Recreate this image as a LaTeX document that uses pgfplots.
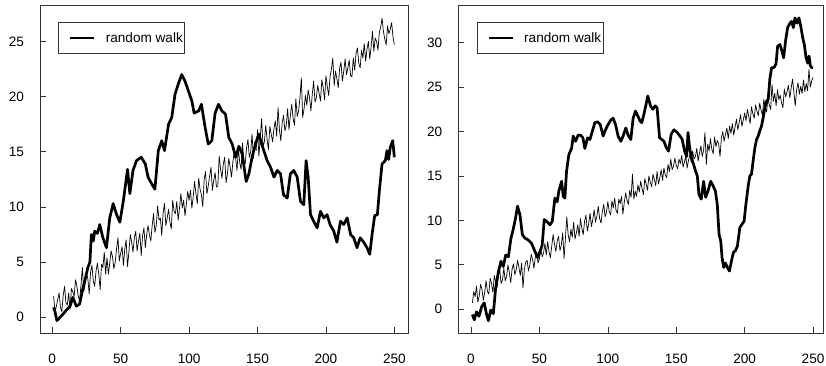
\documentclass[border=0pt]{standalone}
\usepackage{fontspec}
\setmainfont{Liberation Sans}
\usepackage{pgfplots}
\usepackage{pgfplotstable}
\pgfplotsset{compat=1.18}

\pgfplotstableread[row sep=\\]{y\\
1.9\\ 0.5\\ 1.0\\ 1.6\\ 2.2\\ 0.9\\ 0.5\\ 2.0\\ 2.8\\ 1.3\\
1.1\\ 2.2\\ 0.7\\ 2.6\\ 2.3\\ 1.9\\ 3.4\\ 2.8\\ 1.9\\ 1.5\\
2.9\\ 4.5\\ 2.3\\ 3.0\\ 4.0\\ 3.5\\ 2.1\\ 4.1\\ 4.7\\ 3.3\\
2.8\\ 4.2\\ 4.9\\ 3.9\\ 2.5\\ 4.8\\ 4.5\\ 5.9\\ 3.9\\ 5.4\\
3.9\\ 4.9\\ 6.0\\ 5.5\\ 4.4\\ 5.0\\ 6.2\\ 7.2\\ 5.1\\ 5.8\\
6.4\\ 4.7\\ 6.2\\ 7.0\\ 4.6\\ 5.9\\ 7.5\\ 6.8\\ 5.9\\ 7.2\\
7.8\\ 6.0\\ 6.9\\ 7.6\\ 5.6\\ 7.4\\ 8.1\\ 6.3\\ 7.5\\ 8.3\\
7.5\\ 6.9\\ 8.3\\ 9.4\\ 7.7\\ 8.3\\ 10.1\\ 8.8\\ 9.0\\ 7.4\\
9.4\\ 10.3\\ 8.3\\ 9.0\\ 9.8\\ 8.6\\ 8.0\\ 10.6\\ 9.6\\ 9.4\\
10.5\\ 8.8\\ 9.9\\ 11.2\\ 9.9\\ 10.6\\ 9.2\\ 10.3\\ 11.4\\ 10.6\\
11.5\\ 9.9\\ 10.9\\ 12.3\\ 11.2\\ 10.3\\ 12.6\\ 11.6\\ 11.1\\ 10.0\\
12.5\\ 13.2\\ 11.2\\ 11.9\\ 12.8\\ 13.6\\ 11.5\\ 12.4\\ 13.1\\ 11.8\\
11.9\\ 14.6\\ 13.4\\ 12.6\\ 13.9\\ 14.5\\ 12.2\\ 13.0\\ 14.4\\ 13.6\\
12.7\\ 14.1\\ 15.0\\ 14.4\\ 13.3\\ 15.3\\ 14.0\\ 13.4\\ 15.8\\ 14.2\\
13.9\\ 15.4\\ 16.1\\ 14.5\\ 15.0\\ 16.6\\ 14.4\\ 15.9\\ 15.1\\ 17.0\\
14.6\\ 16.3\\ 18.0\\ 15.5\\ 15.9\\ 17.4\\ 16.1\\ 15.2\\ 17.3\\ 16.6\\
15.9\\ 17.1\\ 17.8\\ 16.4\\ 19.0\\ 17.0\\ 16.0\\ 17.6\\ 18.3\\ 16.9\\
17.4\\ 18.9\\ 17.0\\ 18.3\\ 19.3\\ 18.0\\ 17.4\\ 19.8\\ 18.2\\ 18.7\\
19.9\\ 21.7\\ 18.1\\ 18.9\\ 20.1\\ 19.2\\ 20.6\\ 19.9\\ 18.7\\ 20.2\\
21.4\\ 19.5\\ 19.9\\ 21.0\\ 20.3\\ 19.6\\ 21.5\\ 20.8\\ 19.7\\ 21.9\\
20.9\\ 20.1\\ 21.8\\ 22.5\\ 23.5\\ 21.0\\ 22.3\\ 21.6\\ 20.8\\ 22.6\\
23.1\\ 21.4\\ 22.3\\ 23.4\\ 22.0\\ 22.6\\ 23.3\\ 21.9\\ 21.8\\ 23.5\\
22.4\\ 23.9\\ 24.4\\ 23.0\\ 22.6\\ 24.2\\ 23.5\\ 24.8\\ 23.2\\ 24.3\\
25.0\\ 23.4\\ 24.5\\ 25.9\\ 24.1\\ 25.3\\ 25.0\\ 24.2\\ 25.8\\ 26.3\\
27.1\\ 25.9\\ 25.2\\ 24.7\\ 26.4\\ 25.7\\ 26.1\\ 26.7\\ 25.4\\ 24.7\\
}\tlone

\pgfplotstableread[row sep=\\]{y\\
0.7\\ 2.0\\ 1.4\\ 2.6\\ 0.8\\ 1.5\\ 2.8\\ 2.2\\ 1.0\\ 1.9\\
3.2\\ 2.0\\ 1.7\\ 3.5\\ 2.9\\ 1.9\\ 3.8\\ 3.1\\ 2.4\\ 3.9\\
4.4\\ 2.9\\ 3.3\\ 4.6\\ 3.2\\ 3.7\\ 5.0\\ 4.1\\ 3.0\\ 4.5\\
5.1\\ 3.9\\ 4.4\\ 5.5\\ 4.7\\ 3.8\\ 5.2\\ 2.4\\ 4.5\\ 5.3\\
5.5\\ 4.3\\ 5.0\\ 6.2\\ 5.6\\ 4.6\\ 5.9\\ 6.4\\ 5.2\\ 5.7\\
6.8\\ 5.9\\ 6.3\\ 7.4\\ 6.1\\ 7.6\\ 6.5\\ 5.8\\ 7.1\\ 8.4\\
7.3\\ 6.5\\ 7.7\\ 8.2\\ 6.6\\ 7.2\\ 8.6\\ 5.7\\ 8.0\\ 10.4\\
8.4\\ 7.6\\ 9.0\\ 8.1\\ 9.8\\ 7.9\\ 8.6\\ 9.5\\ 8.2\\ 10.2\\
9.1\\ 8.4\\ 9.9\\ 10.6\\ 8.8\\ 9.6\\ 10.8\\ 9.3\\ 10.1\\ 11.2\\
9.8\\ 10.5\\ 11.6\\ 10.2\\ 9.7\\ 11.0\\ 11.8\\ 10.4\\ 10.9\\ 12.1\\
11.0\\ 10.6\\ 12.2\\ 11.4\\ 12.5\\ 11.1\\ 10.8\\ 12.4\\ 11.9\\ 12.7\\
10.7\\ 12.0\\ 13.1\\ 12.3\\ 11.8\\ 13.4\\ 12.6\\ 15.2\\ 12.4\\ 13.3\\
12.7\\ 14.0\\ 13.2\\ 14.4\\ 13.6\\ 12.9\\ 14.7\\ 14.1\\ 13.4\\ 15.0\\
14.3\\ 13.8\\ 15.2\\ 14.6\\ 13.9\\ 15.5\\ 14.1\\ 14.8\\ 15.7\\ 14.5\\
15.9\\ 15.1\\ 14.8\\ 16.3\\ 15.5\\ 16.9\\ 15.7\\ 16.1\\ 17.0\\ 16.2\\
15.8\\ 16.9\\ 16.4\\ 17.3\\ 16.0\\ 16.6\\ 17.2\\ 15.9\\ 16.8\\ 17.4\\
16.5\\ 17.8\\ 16.9\\ 17.2\\ 18.1\\ 16.7\\ 17.6\\ 18.4\\ 17.2\\ 17.9\\
19.9\\ 16.3\\ 18.6\\ 17.8\\ 19.2\\ 18.0\\ 17.5\\ 19.4\\ 18.3\\ 19.0\\
18.6\\ 17.2\\ 19.3\\ 20.0\\ 18.9\\ 19.7\\ 20.4\\ 19.2\\ 20.6\\ 19.8\\
20.9\\ 19.6\\ 20.5\\ 21.4\\ 20.2\\ 21.0\\ 21.9\\ 20.6\\ 21.3\\ 22.1\\
21.2\\ 22.5\\ 21.7\\ 20.9\\ 22.8\\ 22.0\\ 21.5\\ 23.0\\ 22.3\\ 21.8\\
23.2\\ 22.4\\ 21.9\\ 23.6\\ 22.8\\ 22.2\\ 23.7\\ 23.0\\ 22.5\\ 25.3\\
23.4\\ 24.3\\ 22.9\\ 24.7\\ 23.6\\ 24.1\\ 23.2\\ 22.7\\ 24.8\\ 23.9\\
24.5\\ 25.2\\ 23.8\\ 24.9\\ 25.9\\ 24.4\\ 22.9\\ 24.7\\ 25.5\\ 24.2\\
25.1\\ 24.3\\ 25.8\\ 24.5\\ 25.4\\ 24.6\\ 27.0\\ 25.0\\ 25.7\\ 26.1\\
}\tltwo

\pgfplotsset{
  rstyle/.style={
    scale only axis, height=328pt,
    axis line style={black!80, line width=0.6pt},
    tick style={black!80, line width=0.6pt},
    major tick length=6pt, tick align=inside,
    xtick pos=left, ytick pos=left,
    xtick={0,50,...,250},
    ticklabel style={font=\fontsize{13.6}{16}\selectfont},
    /pgf/number format/assume math mode=true,
    xticklabel style={anchor=base, yshift=-31pt},
    yticklabel style={anchor=east, xshift=-12.5pt},
    legend style={anchor=north west, draw=black!80, line width=0.6pt,
      inner xsep=1.5pt, inner ysep=10pt,
      nodes={inner sep=0pt, font=\fontsize{13.6}{16}\selectfont},
      column sep=10pt},
    legend image code/.code={\path (0pt,0pt); \draw[##1] (9pt,0pt) -- (33pt,0pt);},
  },
  thick walk/.style={black, line width=2.7pt, line join=round},
  thin line/.style={black, line width=0.7pt, line join=round},
}

\begin{document}
\begin{tikzpicture}
\useasboundingbox (0,0) rectangle (826pt,366pt);

\begin{axis}[rstyle, at={(40pt,33pt)}, anchor=south west, width=368pt,
  xmin=-8.96, xmax=259.96, ymin=-1.43, ymax=28.3,
  ytick={0,5,...,25},
  legend style={at={(axis description cs:0.0497,0.948)}}]
\addplot[thick walk] coordinates {
(1,0.9) (2,0.5) (3.4,-0.3) (5,-0.1) (8,0.3) (10,0.6) (13,1.0) (15,1.8) (17.6,1.0) (20,1.2)
(22.5,2.7) (24,3.4) (26,4.5) (27.5,5.0) (28.6,7.5) (30,6.9) (31,7.8) (33,7.6) (34.7,8.4) (37,7.2)
(39.6,6.3) (42,9.0) (44.5,10.3) (47,9.3) (49.4,8.6) (52,10.6) (55,13.4) (56.7,11.2) (59,13.3) (61.6,14.2)
(65,14.5) (68,13.9) (70,12.7) (72.6,12.1) (75,11.6) (77.5,15.1) (80,16.0) (82,15.1) (85,17.5) (87.3,18.1)
(89.7,20.2) (92,21.1) (94.6,22.0) (97,21.4) (99.5,20.5) (102,19.6) (103.7,18.5) (107,18.7) (109,19.3) (111.7,17.2)
(114,15.7) (116.6,16.0) (119,18.5) (121.5,19.3) (124,18.7) (126.6,18.4) (129,16.3) (131.5,15.7) (134,14.5) (136.4,15.5)
(138.8,14.8) (141.7,12.3) (143.7,13.0) (146,14.5) (148.5,15.7) (151,16.6) (153,15.7) (154.6,15.1) (157,14.2) (159.5,13.6)
(162,12.7) (164.4,13.3) (166.8,13.0) (169,11.1) (171.7,10.8) (174,13.0) (176.5,13.3) (179,12.7) (181.4,10.5) (183.8,10.2)
(185.5,14.2) (187,12.7) (188.7,9.3) (191,8.7) (193.6,8.1) (196,9.6) (198.4,9.0) (200.8,9.3) (203,8.4) (205.7,7.8)
(208,6.8) (210.6,8.7) (213,8.4) (215.5,9.0) (218,7.5) (220.3,7.2) (222.7,6.3) (225,7.2) (227.6,6.8) (230,6.3)
(232,5.7) (233.7,7.5) (235.6,9.2) (237.6,9.3) (239,11.4) (241,13.9) (243.4,14.2) (244.6,15.1) (245.8,14.3) (247,15.4)
(248.8,16.0) (250,14.5)
};
\addlegendentry{random walk}
\addplot[thin line] table[x expr=\coordindex+1, y=y] {\tlone};
\end{axis}

\begin{axis}[rstyle, at={(458.3pt,33pt)}, anchor=south west, width=365pt,
  xmin=-9.3, xmax=257.5, ymin=-2.68, ymax=34.25,
  ytick={0,5,...,30},
  legend style={at={(axis description cs:0.0504,0.948)}}]
\addplot[thick walk] coordinates {
(1,-0.6) (2.4,-1.2) (4,-0.3) (5.8,-0.8) (7.8,0.3) (9.7,0.7) (11.4,-0.6) (12.7,-1.3) (14.4,-0.1) (16.3,-0.5)
(18,2.4) (20,4.2) (21.9,5.4) (23.6,4.8) (25.3,6.1) (27.3,5.9) (29.2,8.0) (31,9.1) (32.6,10.3) (34,11.6)
(35.8,10.6) (37.5,8.4) (39.4,8.0) (41.8,7.8) (44.3,7.4) (46.7,6.5) (48.7,5.8) (50.4,6.5) (52,7.2) (53.5,10.1)
(55.2,9.9) (57.7,9.5) (59.4,9.9) (61.3,12.5) (63,12.1) (64.2,13.3) (66.2,14.4) (67.4,12.7) (68.6,12.5) (69.8,15.5)
(71.5,17.4) (73.5,18.1) (74.7,19.5) (76.4,18.9) (78.3,19.6) (80,19.6) (81.8,19.3) (83.2,18.1) (85.2,19.3) (86.9,19.1)
(88.6,20.0) (90.5,21.0) (92.5,21.1) (94.4,20.8) (96.6,19.5) (98.3,20.2) (100.2,20.8) (102.2,21.3) (103.9,21.5) (105.6,20.8)
(107.5,19.5) (109.5,18.9) (111.2,19.5) (113.1,20.4) (114.8,19.6) (116.8,19.1) (118.5,21.5) (120.2,22.3) (122.1,21.7) (123.5,21.2)
(124.8,21.0) (126.3,21.9) (128,23.1) (129.2,24.0) (131.2,22.9) (132.9,22.5) (134.6,22.9) (136,22.7) (137.8,19.3) (139.5,19.1)
(141,18.9) (142.7,18.2) (144.4,17.8) (146.3,19.7) (148.3,20.2) (150.7,19.9) (152.7,19.5) (154.4,19.1) (156.1,17.8) (157.6,17.2)
(158.6,19.9) (159.8,18.2) (161,17.1) (162.7,16.3) (164,15.6) (165.4,15.0) (166.6,12.9) (168.3,12.4) (170,14.4) (171.5,12.6)
(173.2,13.3) (175.2,14.4) (176.9,13.9) (178.6,13.3) (180,11.8) (181.3,8.4) (182.5,7.7) (183.5,5.8) (184.7,4.7) (185.9,5.2)
(187.4,4.7) (188.9,4.3) (190.3,5.4) (191.8,6.4) (193.3,6.6) (194.7,7.1) (196.5,9.2) (198.2,9.6) (199.6,9.9) (200.9,11.8)
(202.6,13.9) (203.8,15.0) (205,15.2) (206.2,16.7) (207.5,18.2) (208.7,19.1) (209.9,19.5) (211.1,20.1) (212.3,20.6) (213.6,21.6)
(214.8,22.7) (216,23.4) (217.2,23.6) (218.4,25.9) (219.7,27.2) (221.4,27.2) (222.9,27.6) (224.1,29.6) (225.8,29.8) (227,29.2)
(228.5,28.3) (229.9,30.2) (231.4,31.7) (233.1,32.2) (234.4,32.4) (235.6,31.7) (236.8,32.8) (238.3,32.2) (239.7,32.8) (241.2,31.7)
(242.4,30.6) (243.6,29.8) (244.9,28.3) (246.1,27.7) (247.1,28.5) (248,27.4) (249,27.2) (250,27.2)
};
\addlegendentry{random walk}
\addplot[thin line] table[x expr=\coordindex+1, y=y] {\tltwo};
\end{axis}
\end{tikzpicture}
\end{document}
